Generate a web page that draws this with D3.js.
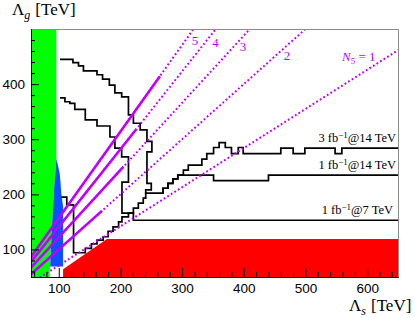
<!DOCTYPE html>
<html>
<head>
<meta charset="utf-8">
<script src="https://cdn.jsdelivr.net/npm/d3@7"></script>
<style>
body{margin:0;background:#fff;}
svg{display:block;}
</style>
</head>
<body>
<script>
//reach plot in the (Lambda_s, Lambda_g) plane
(function(){

//N5 lines, Lambda_g = slope * Lambda_s
var nLabels = ["1","2","3","4","5"];
var nSlopes = [0.71, 1.00, 1.22, 1.41, 1.57];
var nSolidEnd = [0, 170, 205, 226, 264]; //Lambda_s where the solid part stops (0 = none)

//axis ticks
var xTicks = [100,200,300,400,500,600];
var yTicks = [100,200,300,400];

//shaded regions [Lambda_s, Lambda_g]
var greenRegion = [[55,500],[96,500],[96,262],[92.3,208],[90.7,177],[87.9,117],[85.3,57],[85.3,50],[55,50]];
var blueRegion = [[96,266],[98,256],[101.5,238],[103,220],[104,202],[107,178],[107,69],[86,69],[87.9,117],[90.7,177],[92.3,208],[96,262]];
var redRegion = [[107,50],[107,64],[178,119],[650,119],[650,50]];

//reach contours (step corners)
var reach3fb14 = [[102,445],[123,445],[123,439],[132,439],[132,433],[140,433],[140,424],[162,424],[162,417],[171,417],[171,409],[182,409],[182,398],[191,398],[191,384],[202,384],[202,377],[213,377],[213,344],[221,344],[221,329],[232,329],[232,317],[243,317],[243,296],[251,296],[251,277],[243,277],[243,220],[250,220],[250,208],[241,208],[241,202],[269,202],[269,211],[277,211],[277,220],[285,220],[285,228],[293,228],[293,235],[302,235],[302,244],[310,244],[310,253],[332,253],[332,264],[340,264],[340,274],[351,274],[351,285],[360,285],[360,294],[370,294],[370,285],[380,285],[380,274],[391,274],[391,285],[399,285],[399,274],[460,274],[460,284],[480,284],[480,274],[499,274],[499,284],[548,284],[548,274],[559,274],[559,284],[650,284]];
var reach1fb14 = [[102,375],[110,375],[110,368],[118,368],[118,365],[126,365],[126,354],[143,354],[143,335],[162,335],[162,324],[183,324],[183,304],[191,304],[191,284],[202,284],[202,268],[213,268],[213,222],[202.5,222],[202.5,166],[221,166],[221,175],[229,175],[229,184],[237,184],[237,193],[241,193],[241,202],[269,202],[269,211],[277,211],[277,220],[285,220],[285,228],[293,228],[293,235],[351,235],[351,225],[440,225],[440,235],[650,235]];
var reach1fb7 = [[104,195],[113,195],[113,181],[124,181],[124,94],[143,94],[143,102],[153,102],[153,110],[162,110],[162,117],[172,117],[172,123],[180,123],[180,133],[188,133],[188,141],[197,141],[197,150],[202.5,150],[202.5,159],[213,159],[213,166],[221,166],[221,153],[650,153]];
var reachLumi = ["3","1","1"];
var reachEnergy = ["14","14","7"];

//layout
var W = 415, H = 318;
var left = 31, right = 398, top = 29, bottom = 277;
var purple = "#c000ff";
var serif = "'Liberation Serif','Times New Roman',serif";
var sans = "'Liberation Sans',Arial,sans-serif";

var svg = d3.select("body").append("svg")
	.attr("width", W)
	.attr("height", H)
	.style("background", "#fff");

var x = d3.scaleLinear().domain([55,650]).range([left,right]);
var y = d3.scaleLinear().domain([50,500]).range([bottom,top]);

svg.append("clipPath").attr("id","plotClip")
	.append("rect")
	.attr("x", left).attr("y", top)
	.attr("width", right-left).attr("height", bottom-top);

var plot = svg.append("g").attr("clip-path","url(#plotClip)");

var line = d3.line()
	.x(function(d){ return x(d[0]); })
	.y(function(d){ return y(d[1]); });

//regions
plot.append("path").attr("d", line(greenRegion) + "Z").attr("fill","#00ff00");
plot.append("path").attr("d", line(blueRegion) + "Z").attr("fill","#0a50ff");
plot.append("path").attr("d", line(redRegion) + "Z").attr("fill","#ff0000");

//contours
[reach3fb14, reach1fb14, reach1fb7].forEach(function(c){
	plot.append("path")
		.attr("d", line(c))
		.attr("fill","none")
		.attr("stroke","#000")
		.attr("stroke-width",1.7)
		.attr("stroke-linejoin","miter");
});

//N5 lines: dotted over the whole range, solid near the origin
nSlopes.forEach(function(k, i){
	plot.append("path")
		.attr("d", line([[0,0],[700,700*k]]))
		.attr("fill","none")
		.attr("stroke",purple)
		.attr("stroke-width",2)
		.attr("stroke-dasharray","1.8,2.4");
	if (nSolidEnd[i] > 0) {
		plot.append("path")
			.attr("d", line([[0,0],[nSolidEnd[i], nSolidEnd[i]*k]]))
			.attr("fill","none")
			.attr("stroke",purple)
			.attr("stroke-width",2.6);
	}
});

//frame: grey top/right
svg.append("path")
	.attr("d","M"+left+","+(top+0.5)+"H"+(right+0.5)+"V"+bottom)
	.attr("fill","none")
	.attr("stroke","#8c8c8c")
	.attr("stroke-width",1);

//axes, ticks pointing inward
var minorX = d3.range(60,650,20).filter(function(v){ return v % 100 != 0; });
var minorY = d3.range(60,500,20).filter(function(v){ return v % 100 != 0; });

var xAxis = svg.append("g")
	.attr("transform","translate(0,"+bottom+")")
	.call(d3.axisBottom(x).tickValues(xTicks).tickSizeInner(-9).tickSizeOuter(0).tickPadding(16));
var xMinor = svg.append("g")
	.attr("transform","translate(0,"+bottom+")")
	.call(d3.axisBottom(x).tickValues(minorX).tickSizeInner(-5).tickSizeOuter(0).tickFormat(""));
var yAxis = svg.append("g")
	.attr("transform","translate("+left+",0)")
	.call(d3.axisLeft(y).tickValues(yTicks).tickSizeInner(-8).tickSizeOuter(0).tickPadding(6));
var yMinor = svg.append("g")
	.attr("transform","translate("+left+",0)")
	.call(d3.axisLeft(y).tickValues(minorY).tickSizeInner(-4).tickSizeOuter(0).tickFormat(""));

[xAxis, xMinor, yAxis, yMinor].forEach(function(a){
	a.selectAll("path,line").attr("stroke","#000").attr("stroke-width",1);
	a.selectAll("text").attr("fill","#000").style("font-family",sans).style("font-size","13.5px");
});
xAxis.selectAll("text").attr("dy",null).attr("y",16);

//axis titles
var yTitle = svg.append("text").attr("x",12).attr("y",15)
	.style("font-family",serif).style("font-size","17px");
yTitle.append("tspan").text("Λ");
yTitle.append("tspan").attr("dy",4).style("font-size","12px").style("font-style","italic").text("g");
yTitle.append("tspan").attr("dy",-4).attr("dx",5).text("[TeV]");

var xTitle = svg.append("text").attr("x",349).attr("y",311)
	.style("font-family",serif).style("font-size","17px");
xTitle.append("tspan").text("Λ");
xTitle.append("tspan").attr("dy",4).style("font-size","12px").style("font-style","italic").text("s");
xTitle.append("tspan").attr("dy",-4).attr("dx",5).text("[TeV]");

//contour labels
[reach3fb14, reach1fb14, reach1fb7].forEach(function(c, i){
	var last = c[c.length-1];
	var t = svg.append("text")
		.attr("x", i == 2 ? 393 : 396)
		.attr("y", y(last[1]) - 6)
		.attr("text-anchor","end")
		.style("font-family",serif).style("font-size","12.5px");
	t.append("tspan").text(reachLumi[i] + " fb");
	t.append("tspan").attr("dy",-4).style("font-size","9px").text("−1");
	t.append("tspan").attr("dy",4).text("@" + reachEnergy[i] + " TeV");
});

//N5 labels
var nLabelPos = [[342,61],[287,60],[243,51],[215.5,47],[195,45]];
nLabels.forEach(function(n, i){
	var t = svg.append("text")
		.attr("x", nLabelPos[i][0])
		.attr("y", nLabelPos[i][1])
		.attr("text-anchor", i == 0 ? "start" : "middle")
		.attr("fill", purple)
		.style("font-family",serif).style("font-size","13px");
	if (i == 0) {
		t.append("tspan").style("font-style","italic").text("N");
		t.append("tspan").attr("dy",3).style("font-size","9px").text("5");
		t.append("tspan").attr("dy",-3).text(" = " + n);
	} else {
		t.text(n);
	}
});

})();
</script>
</body>
</html>
